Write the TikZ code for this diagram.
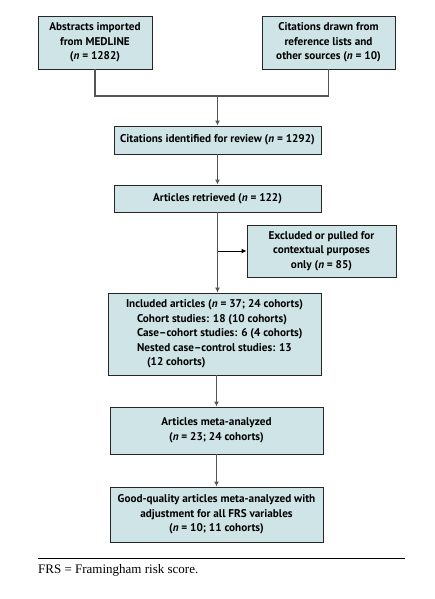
\documentclass[tikz,border=0pt]{standalone}
\usepackage{fontspec}
\setmainfont{Liberation Serif}
\setsansfont{PT Sans}
\usetikzlibrary{arrows.meta}
\definecolor{boxfill}{HTML}{CFE4E6}
\definecolor{linegray}{HTML}{555555}
\begin{document}
\begin{tikzpicture}[x=1pt, y=-1pt,
    flowbox/.style={draw=black!85, line width=0.9pt, fill=boxfill, align=center, inner sep=0pt,
      font=\sffamily\bfseries\fontsize{11.2}{14.6}\selectfont},
    flowline/.style={draw=linegray, line width=1.5pt},
    flowarrow/.style={flowline, -{Latex[length=5pt, width=5pt]}}]
  \useasboundingbox (0,0) rectangle (435,599);
  \node [flowbox, minimum width=114pt, minimum height=53pt] (abs) at (95, 42.5)
    {Abstracts imported\\from MEDLINE\\(\textit{n} = 1282)};
  \node [flowbox, minimum width=133pt, minimum height=53pt] (cit) at (328.5, 42.5)
    {Citations drawn from\\reference lists and\\other sources (\textit{n} = 10)};
  \node [flowbox, minimum width=207pt, minimum height=28pt] (ident) at (217.5, 140)
    {Citations identified for review (\textit{n} = 1292)};
  \node [flowbox, minimum width=207pt, minimum height=27pt] (retr) at (217.5, 198.5)
    {Articles retrieved (\textit{n} = 122)};
  \node [flowbox, minimum width=149pt, minimum height=52pt] (excl) at (321.5, 251)
    {Excluded or pulled for\\contextual purposes\\only (\textit{n} = 85)};
  \node [flowbox, minimum width=213pt, minimum height=82pt, align=left] (incl) at (214.5, 334)
    {Included articles (\textit{n} = 37; 24 cohorts)\\
     \hspace*{11pt}Cohort studies: 18 (10 cohorts)\\
     \hspace*{11pt}Case--cohort studies: 6 (4 cohorts)\\
     \hspace*{11pt}Nested case--control studies: 13\\
     \hspace*{21pt}(12 cohorts)};
  \node [flowbox, minimum width=213pt, minimum height=47pt] (meta) at (216.5, 430.5)
    {Articles meta-analyzed\\(\textit{n} = 23; 24 cohorts)};
  \node [flowbox, minimum width=213pt, minimum height=55pt] (good) at (216.5, 514.5)
    {Good-quality articles meta-analyzed with\\adjustment for all FRS variables\\(\textit{n} = 10; 11 cohorts)};

  \coordinate (join) at (217.5, 96);
  \coordinate (split) at (217.5, 251);
  \draw [flowline] (abs.south) |- (join) -| (cit.south);
  \draw [flowarrow] (join) -- (ident.north);
  \draw [flowarrow] (ident.south) -- (retr.north);
  \draw [flowarrow] (retr.south) -- (split) -- (split |- incl.north);
  \draw [draw=black, line width=0.9pt, -{Latex[length=5pt, width=5pt]}] (split) -- (excl.west);
  \draw [flowarrow] (meta.north |- incl.south) -- (meta.north);
  \draw [flowarrow] (meta.south) -- (good.north);

  \coordinate (ruleL) at (38, 558);
  \coordinate (ruleR) at (405, 558);
  \draw [line width=0.8pt] (ruleL) -- (ruleR);
  \node [anchor=base west, inner sep=0pt, font=\fontsize{13}{15}\selectfont] (note) at (38, 573)
    {FRS = Framingham risk score.};
\end{tikzpicture}
\end{document}
